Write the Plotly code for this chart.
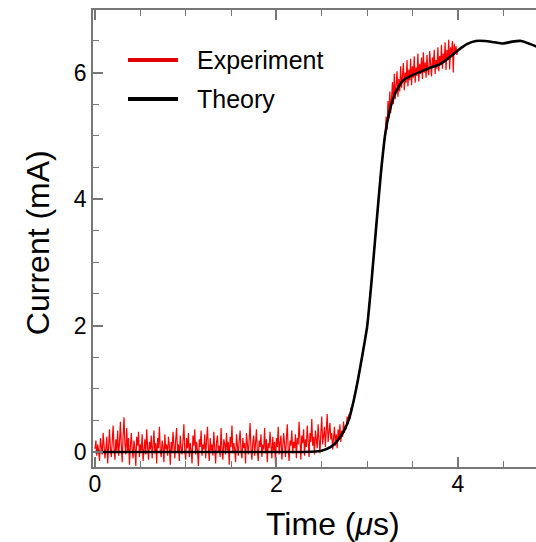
import numpy as np
import plotly.graph_objects as go

# ---------------- data ----------------
series_names = ["Experiment", "Theory"]
series_colors = ["#ff0000", "#000000"]

# Theory curve (time in µs, current in mA)
theory_t = [0.0, 0.5, 1.0, 1.5, 2.0, 2.3, 2.5, 2.6, 2.65, 2.7, 2.75, 2.8, 2.85, 2.9, 2.95,
            3.0, 3.05, 3.1, 3.15, 3.2, 3.25, 3.3, 3.35, 3.4, 3.5, 3.6, 3.7, 3.8, 3.9, 4.0,
            4.1, 4.2, 4.3, 4.4, 4.5, 4.6, 4.7, 4.8, 4.87]
theory_i = [0.0, 0.0, 0.0, 0.0, 0.0, 0.0, 0.02, 0.08, 0.14, 0.23, 0.35, 0.52, 0.80, 1.15, 1.55,
            1.98, 2.72, 3.56, 4.38, 5.03, 5.40, 5.64, 5.78, 5.88, 5.96, 6.02, 6.08, 6.13, 6.23, 6.35,
            6.45, 6.50, 6.50, 6.48, 6.46, 6.49, 6.50, 6.45, 6.41]

# Experiment: sampled every 0.01 µs from 0 to 4.0 µs
exp_t0, exp_dt = 0.0, 0.01
exp_i = [
    # 0.00 - 2.60
    0.05, 0.18, -0.06, 0.12, 0.02, -0.14, 0.22, 0.08, -0.04, 0.30, 0.14, -0.10, 0.06, 0.24, -0.18, 0.10, 0.36, 0.04, -0.08, 0.16,
    0.42, 0.06, -0.12, 0.20, 0.02, 0.34, -0.06, 0.14, 0.48, 0.10, -0.16, 0.26, 0.55, 0.12, -0.04, 0.38, 0.00, 0.22, -0.20, 0.08,
    0.30, 0.04, -0.10, 0.18, 0.06, -0.22, 0.24, 0.10, 0.32, -0.08, 0.12, 0.02, 0.28, -0.14, 0.06, 0.20, -0.04, 0.36, 0.08, -0.12,
    0.16, 0.04, 0.26, -0.10, 0.10, 0.34, -0.02, 0.14, -0.18, 0.22, 0.06, 0.40, 0.02, -0.08, 0.18, 0.08, -0.16, 0.28, 0.04, 0.12,
    -0.06, 0.24, 0.10, -0.20, 0.16, 0.02, 0.32, 0.06, -0.10, 0.20, 0.38, 0.00, 0.12, -0.14, 0.26, 0.08, -0.04, 0.18, 0.44, 0.02,
    -0.12, 0.22, 0.06, 0.30, -0.08, 0.14, 0.04, -0.18, 0.26, 0.10, 0.36, -0.04, 0.16, 0.02, -0.22, 0.20, 0.08, 0.34, -0.06, 0.12,
    0.04, 0.28, -0.10, 0.18, 0.40, 0.06, -0.14, 0.22, 0.02, 0.12, -0.06, 0.32, 0.08, -0.18, 0.16, 0.26, 0.00, 0.10, -0.08, 0.38,
    0.06, -0.12, 0.20, 0.12, -0.04, 0.30, 0.02, 0.16, -0.20, 0.24, 0.08, 0.42, -0.02, 0.14, 0.04, -0.16, 0.28, 0.10, -0.06, 0.18,
    0.34, 0.02, -0.10, 0.22, 0.06, 0.14, -0.18, 0.30, 0.08, -0.04, 0.20, 0.46, 0.04, -0.12, 0.16, 0.26, -0.06, 0.10, 0.36, 0.00,
    -0.14, 0.18, 0.08, 0.28, -0.08, 0.12, 0.04, 0.38, -0.02, 0.20, -0.16, 0.14, 0.06, 0.32, 0.10, -0.10, 0.24, 0.02, 0.16, -0.20,
    0.22, 0.08, 0.40, -0.04, 0.14, 0.26, -0.12, 0.06, 0.30, 0.12, -0.08, 0.20, 0.44, 0.04, -0.14, 0.18, 0.10, 0.34, -0.02, 0.16,
    0.06, 0.28, -0.10, 0.22, 0.12, 0.48, 0.02, -0.12, 0.26, 0.14, 0.36, -0.06, 0.20, 0.08, 0.42, 0.04, -0.08, 0.30, 0.16, 0.52,
    0.10, 0.24, -0.04, 0.34, 0.14, 0.06, 0.44, 0.18, -0.02, 0.30, 0.56, 0.12, 0.22, 0.40, 0.08, 0.32, 0.60, 0.16, 0.28, 0.46,
    0.20,
    # 2.61 - 3.20
    0.30, 0.04, 0.22, 0.40, 0.10, 0.28, 0.06, 0.36, 0.20, 0.44,
    0.16, 0.34, 0.24, 0.48, 0.30, 0.42, 0.36, 0.56, 0.44, 0.60,
    0.52, 0.70, 0.66, 0.78, 0.80, 0.90, 0.92, 1.04, 1.06, 1.18,
    1.20, 1.32, 1.36, 1.48, 1.52, 1.66, 1.70, 1.84, 1.88, 2.00,
    2.10, 2.30, 2.40, 2.60, 2.70, 2.90, 3.02, 3.22, 3.36, 3.58,
    3.70, 3.92, 4.06, 4.26, 4.38, 4.56, 4.66, 4.84, 4.90, 5.06,
    # 3.21 - 4.00
    5.30, 5.10, 5.55, 5.28, 5.70, 5.36, 5.62, 5.85, 5.50, 5.98,
    5.58, 5.80, 6.02, 5.62, 5.90, 5.70, 6.10, 5.76, 5.98, 6.15,
    5.72, 6.00, 5.84, 6.20, 5.78, 6.05, 5.88, 6.22, 5.80, 6.10,
    5.92, 6.26, 5.84, 6.08, 5.95, 6.30, 5.86, 6.14, 5.98, 6.24,
    5.90, 6.32, 6.00, 6.16, 5.92, 6.28, 6.04, 5.96, 6.34, 6.06,
    5.94, 6.24, 6.10, 6.36, 5.98, 6.20, 6.06, 6.40, 6.02, 6.26,
    6.12, 6.44, 6.06, 6.30, 6.16, 6.48, 6.04, 6.36, 6.20, 6.52,
    6.05, 6.40, 6.26, 6.50, 6.00, 6.46, 6.30, 6.42, 6.28, 6.36,
]
exp_t = np.round(exp_t0 + exp_dt * np.arange(len(exp_i)), 3)

x_ticks = [0, 2, 4]
y_ticks = [0, 2, 4, 6]
x_title = "Time (<i>μ</i>s)"
y_title = "Current (mA)"

# ---------------- figure ----------------
FONT = "Liberation Sans, Arial, sans-serif"
AX = "#777777"

fig = go.Figure()
fig.add_trace(go.Scatter(x=exp_t, y=exp_i, mode="lines", name=series_names[0],
                         line=dict(color=series_colors[0], width=1.2), showlegend=False))
fig.add_trace(go.Scatter(x=theory_t, y=theory_i, mode="lines", name=series_names[1],
                         line=dict(color=series_colors[1], width=2.6, shape="spline", smoothing=0.5),
                         showlegend=False))

fig.update_layout(
    width=536, height=542,
    margin=dict(l=93, r=0, t=10, b=75),
    paper_bgcolor="white", plot_bgcolor="white",
    font=dict(family=FONT, color="black"),
    xaxis=dict(range=[-0.022, 4.862], tickvals=x_ticks, ticks="inside", ticklen=10,
               tickcolor=AX, tickwidth=1.5, showline=True, linecolor=AX, linewidth=1.5,
               mirror="ticks", showgrid=False, zeroline=False,
               tickfont=dict(size=23, family=FONT), ticklabelstandoff=-4,
               minor=dict(dtick=0.5, ticks="inside", ticklen=6, tickcolor=AX, tickwidth=1.2)),
    yaxis=dict(range=[-0.237, 6.99], tickvals=y_ticks, ticks="inside", ticklen=10,
               tickcolor=AX, tickwidth=1.5, showline=True, linecolor=AX, linewidth=1.5,
               mirror=False, showgrid=False, zeroline=False,
               tickfont=dict(size=23, family=FONT), ticklabelstandoff=0,
               minor=dict(dtick=0.5, ticks="inside", ticklen=6, tickcolor=AX, tickwidth=1.2)),
)

# axis titles
fig.add_annotation(text=x_title, xref="paper", yref="paper", x=(333 - 93) / 443, y=-0.125,
                   xanchor="center", yanchor="middle", showarrow=False,
                   font=dict(size=32, family=FONT, color="black"))
fig.add_annotation(text=y_title, xref="paper", yref="paper", x=-0.124, y=0.49,
                   xanchor="center", yanchor="middle", showarrow=False, textangle=-90,
                   font=dict(size=32, family=FONT, color="black"))

# legend (drawn manually to get long thick sample lines)
legend_rows = [0.8906, 0.8053]
legend_line_colors = ["#e00000", "#000000"]
for name, col, yy in zip(series_names, legend_line_colors, legend_rows):
    fig.add_shape(type="line", xref="paper", yref="paper", x0=0.079, x1=0.192, y0=yy, y1=yy,
                  line=dict(color=col, width=4))
    fig.add_annotation(text=name, xref="paper", yref="paper", x=0.230, y=yy,
                       xanchor="left", yanchor="middle", showarrow=False,
                       font=dict(size=25, family=FONT, color="black"))

fig.write_html("out.html")
